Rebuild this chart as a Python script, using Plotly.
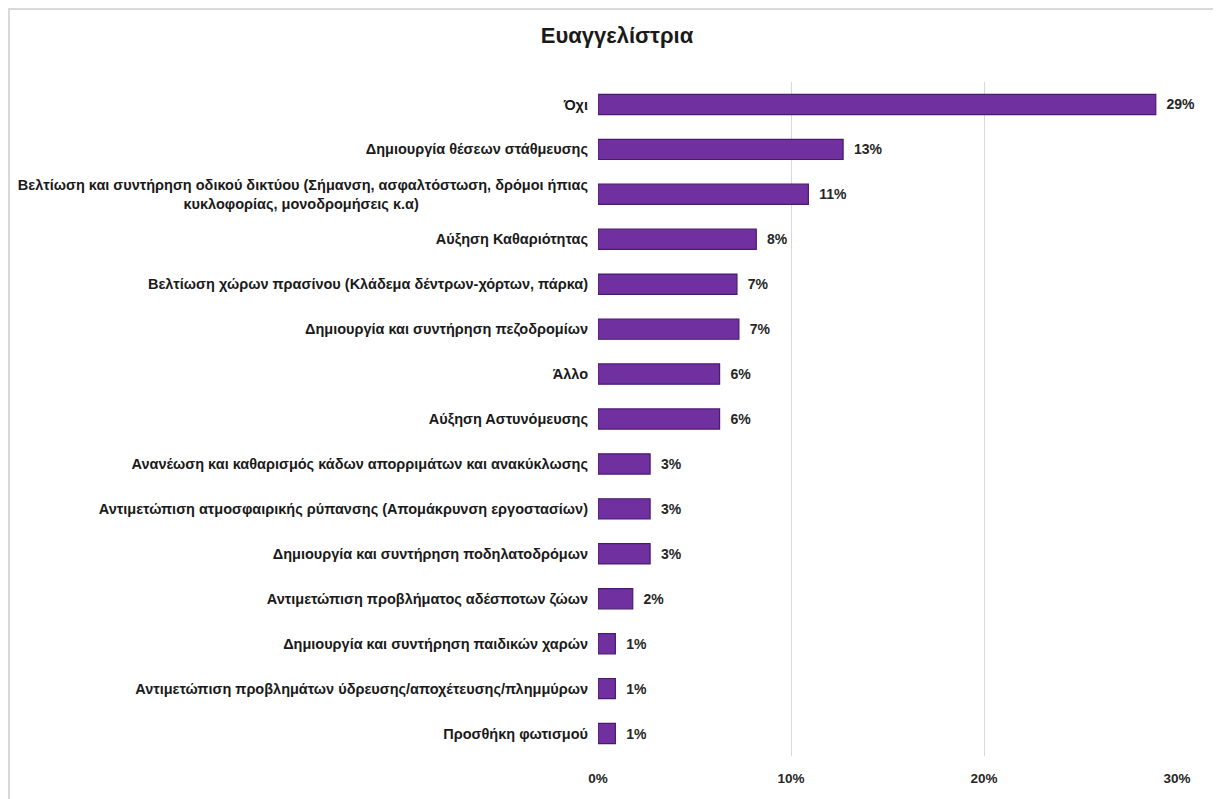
import plotly.graph_objects as go

NB = "\u00a0"

categories = [
    "Όχι",
    "Δημιουργία θέσεων στάθμευσης",
    "Βελτίωση και συντήρηση οδικού δικτύου (Σήμανση, ασφαλτόστωση, δρόμοι ήπιας<br>κυκλοφορίας, μονοδρομήσεις κ.α)" + NB * 42,
    "Αύξηση Καθαριότητας",
    "Βελτίωση χώρων πρασίνου (Κλάδεμα δέντρων-χόρτων, πάρκα)",
    "Δημιουργία και συντήρηση πεζοδρομίων",
    "Άλλο",
    "Αύξηση Αστυνόμευσης",
    "Ανανέωση και καθαρισμός κάδων απορριμάτων και ανακύκλωσης",
    "Αντιμετώπιση ατμοσφαιρικής ρύπανσης (Απομάκρυνση εργοστασίων)",
    "Δημιουργία και συντήρηση ποδηλατοδρόμων",
    "Αντιμετώπιση προβλήματος αδέσποτων ζώων",
    "Δημιουργία και συντήρηση παιδικών χαρών",
    "Αντιμετώπιση προβλημάτων ύδρευσης/αποχέτευσης/πλημμύρων",
    "Προσθήκη φωτισμού",
]
values = [28.9, 12.7, 10.9, 8.2, 7.2, 7.3, 6.3, 6.3, 2.7, 2.7, 2.7, 1.8, 0.9, 0.9, 0.9]
labels = [f"{NB}{NB}{round(v)}%" for v in values]
tick_vals = [0, 10, 20, 30]
tick_text = ["0%", "10%", "20%", "30%"]

FONT = "Liberation Sans, Arial, sans-serif"

fig = go.Figure(
    go.Bar(
        x=values,
        y=categories,
        orientation="h",
        width=0.45,
        marker=dict(color="#7030A0", line=dict(color="#4A1A70", width=1.2)),
        text=labels,
        textposition="outside",
        textfont=dict(family=FONT, size=14, color="#262626", weight="bold"),
        cliponaxis=False,
    )
)

W, H = 1221, 799
L, R, T, B = 590, 52, 74, 51
pw, ph = W - L - R, H - T - B

fig.update_layout(
    width=W,
    height=H,
    paper_bgcolor="white",
    plot_bgcolor="white",
    margin=dict(l=L, r=R, t=T, b=B, autoexpand=False),
    title=dict(
        text="Ευαγγελίστρια",
        x=609 / W,
        xanchor="center",
        y=1 - 27 / H,
        yanchor="middle",
        font=dict(family=FONT, size=22, color="#1a1a1a", weight="bold"),
    ),
    showlegend=False,
    font=dict(family=FONT),
)

fig.update_xaxes(
    range=[0, 30],
    tickvals=tick_vals,
    ticktext=tick_text,
    showgrid=True,
    gridcolor="#D9D9D9",
    gridwidth=1,
    zeroline=False,
    showline=False,
    tickfont=dict(family=FONT, size=13.5, color="#262626", weight="bold"),
    ticks="",
    ticklabelstandoff=12,
)
fig.update_yaxes(
    autorange="reversed",
    showgrid=False,
    showline=False,
    ticks="",
    tickfont=dict(family=FONT, size=14.5, color="#1a1a1a", weight="bold"),
    ticklabelstandoff=9,
)

# outer chart frame (top and left edges)
fig.add_shape(
    type="line", xref="paper", yref="paper",
    x0=-L / pw, x1=(W - L) / pw, y0=1 + (T - 1) / ph, y1=1 + (T - 1) / ph,
    line=dict(color="#D9D9D9", width=2), layer="below",
)
fig.add_shape(
    type="line", xref="paper", yref="paper",
    x0=-(L - 1) / pw, x1=-(L - 1) / pw, y0=-B / ph, y1=1 + T / ph,
    line=dict(color="#D9D9D9", width=2), layer="below",
)

fig.write_html("out.html")
